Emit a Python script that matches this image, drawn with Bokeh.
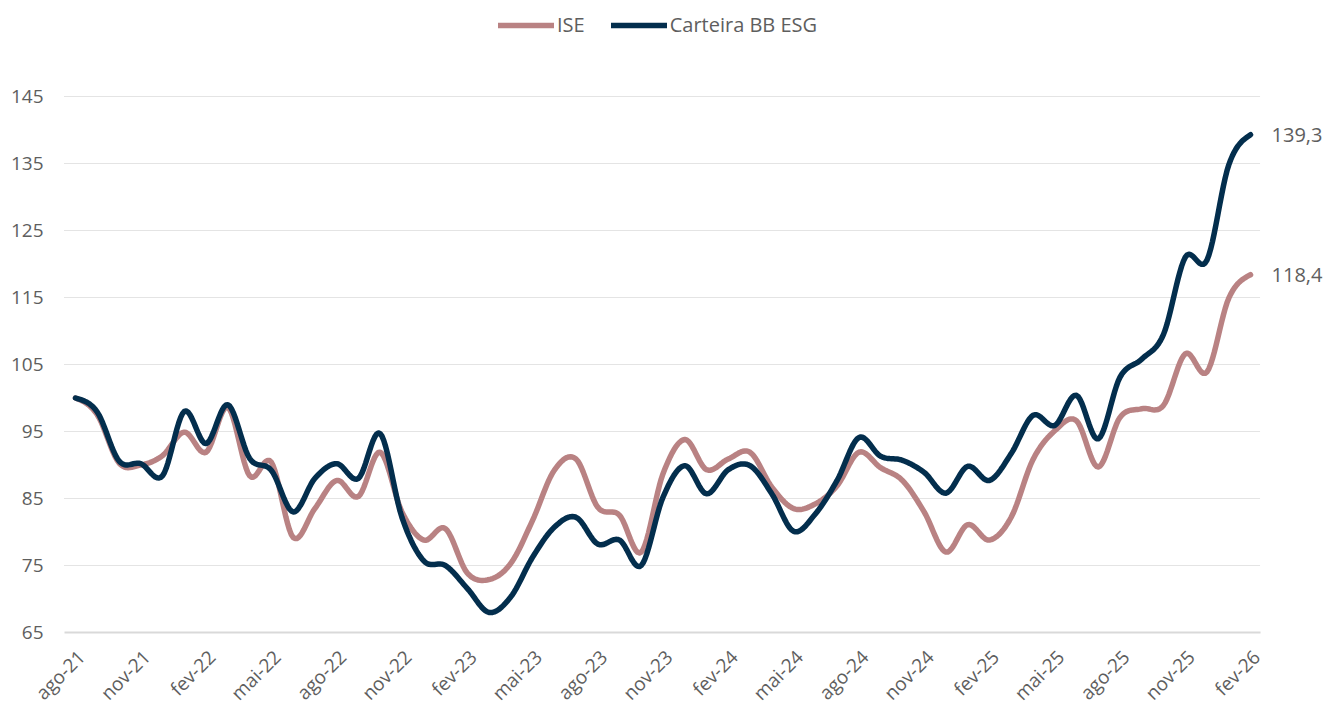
import numpy as np
from bokeh.plotting import figure
from bokeh.models import Legend, LegendItem, Label
from bokeh.core.properties import value
from bokeh.embed import file_html
from bokeh.resources import INLINE

months = ["ago-21", "set-21", "out-21", "nov-21", "dez-21",
          "jan-22", "fev-22", "mar-22", "abr-22", "mai-22", "jun-22", "jul-22", "ago-22", "set-22", "out-22", "nov-22", "dez-22",
          "jan-23", "fev-23", "mar-23", "abr-23", "mai-23", "jun-23", "jul-23", "ago-23", "set-23", "out-23", "nov-23", "dez-23",
          "jan-24", "fev-24", "mar-24", "abr-24", "mai-24", "jun-24", "jul-24", "ago-24", "set-24", "out-24", "nov-24", "dez-24",
          "jan-25", "fev-25", "mar-25", "abr-25", "mai-25", "jun-25", "jul-25", "ago-25", "set-25", "out-25", "nov-25", "dez-25",
          "jan-26", "fev-26"]

ise = [100.0, 97.5, 90.3, 90.0, 91.4, 94.9, 91.9, 98.6, 88.4, 90.4, 79.2, 83.5, 87.7, 85.3, 91.9, 83.0, 78.8,
       80.5, 73.9, 72.9, 75.3, 81.7, 89.2, 90.9, 83.7, 82.5, 77.0, 88.7, 93.8,
       89.3, 90.9, 91.9, 86.7, 83.5, 84.2, 86.9, 91.9, 89.6, 87.7, 83.0, 77.0,
       81.1, 78.8, 82.2, 90.8, 95.1, 96.6, 89.7, 97.1, 98.4, 98.9, 106.6, 103.9,
       114.9, 118.4]

carteira = [100.0, 97.9, 90.6, 90.2, 88.4, 98.0, 93.2, 99.0, 91.0, 89.2, 83.0, 88.0, 90.2, 88.0, 94.7, 82.2, 75.7,
            75.0, 71.6, 68.0, 70.3, 76.2, 80.7, 82.2, 78.2, 78.8, 75.0, 85.2, 89.9,
            85.7, 89.3, 89.9, 85.7, 80.1, 82.7, 87.7, 94.1, 91.3, 90.7, 88.9, 85.8,
            89.8, 87.7, 91.7, 97.4, 95.9, 100.4, 93.9, 103.1, 105.8, 109.5, 121.0, 120.6,
            134.8, 139.3]

series_names = ["ISE", "Carteira BB ESG"]
y_ticks = [65, 75, 85, 95, 105, 115, 125, 135, 145]
x_tick_step = 3

C_ISE = "#B98283"
C_BB = "#032E4D"
TXT = "#5E5E5E"
FONT = "Open Sans"


def smooth(vals, k=12):
    y = np.asarray(vals, dtype=float)
    n = len(y)
    P = np.concatenate([[y[0]], y, [y[-1]]])
    xs, ys = [], []
    t = np.linspace(0, 1, k, endpoint=False)
    for i in range(n - 1):
        p0, p1, p2, p3 = P[i], P[i + 1], P[i + 2], P[i + 3]
        q = 0.5 * (2 * p1 + (-p0 + p2) * t + (2 * p0 - 5 * p1 + 4 * p2 - p3) * t ** 2
                   + (-p0 + 3 * p1 - 3 * p2 + p3) * t ** 3)
        xs.extend(i + t)
        ys.extend(q)
    xs.append(n - 1)
    ys.append(y[-1])
    return xs, ys


n = len(months)
W, H = 1328, 709
X_FIRST = 75          # pixel column of the first month
AXIS_Y = 632          # pixel row of the baseline (value y_ticks[0])
GRID_LEFT = 64        # pixel column where grid lines start
px_per_x = 21.76
px_per_y = 6.7
x0 = -X_FIRST / px_per_x
x1 = x0 + W / px_per_x
grid_start = -(X_FIRST - GRID_LEFT) / px_per_x
grid_end = (n - 1) + 10 / px_per_x
y_base = y_ticks[0]
y0 = y_base - (H - AXIS_Y) / px_per_y
y1 = y_base + AXIS_Y / px_per_y

p = figure(width=W, height=H, x_range=(x0, x1), y_range=(y0, y1),
           output_backend="svg", toolbar_location=None,
           x_axis_location=None, y_axis_location=None,
           min_border_left=0, min_border_right=0, min_border_top=0, min_border_bottom=0)
p.outline_line_color = None
p.background_fill_color = "white"
p.border_fill_color = "white"
p.grid.grid_line_color = None

# horizontal dotted grid lines, limited to the plotting area
gy = y_ticks[1:]
p.segment(x0=[grid_start] * len(gy), x1=[grid_end] * len(gy), y0=gy, y1=gy,
          line_color="#C9C9C9", line_width=1, line_dash="1 1")
# solid baseline
p.segment(x0=[grid_start], x1=[grid_end], y0=[y_base], y1=[y_base], line_color="#D9D9D9", line_width=2)

# y tick labels
p.text(x=[0] * len(y_ticks), y=y_ticks, text=[str(v) for v in y_ticks],
       x_offset=-32, text_align="right", text_baseline="middle",
       text_font=value(FONT), text_font_size="19px", text_color=TXT)

# x tick labels (rotated)
xt = list(range(0, n, x_tick_step))
p.text(x=xt, y=[y_base] * len(xt), text=[months[i] for i in xt], angle=np.pi / 4,
       x_offset=6, y_offset=21, text_align="right", text_baseline="middle",
       text_font=value(FONT), text_font_size="19px", text_color=TXT)

xs1, ys1 = smooth(ise)
xs2, ys2 = smooth(carteira)
r1 = p.line(xs1, ys1, line_color=C_ISE, line_width=5.5, line_cap="round", line_join="round")
r2 = p.line(xs2, ys2, line_color=C_BB, line_width=5.5, line_cap="round", line_join="round")

# end labels
for vals in (carteira, ise):
    p.add_layout(Label(x=n - 1, y=vals[-1], text=f"{vals[-1]:.1f}".replace(".", ","),
                       x_offset=21, text_baseline="middle", text_align="left",
                       text_font=FONT, text_font_size="20px", text_color=TXT))

legend = Legend(items=[LegendItem(label=series_names[0], renderers=[r1]),
                       LegendItem(label=series_names[1], renderers=[r2])],
                orientation="horizontal", location=(498, H - 38),
                glyph_width=56, glyph_height=20, label_height=20, label_standoff=3, spacing=26,
                padding=0, margin=0, border_line_alpha=0, background_fill_alpha=0,
                label_text_font=FONT, label_text_font_size="20px", label_text_color=TXT)
p.add_layout(legend, "center")

open("out.html", "w").write(file_html(p, INLINE))
